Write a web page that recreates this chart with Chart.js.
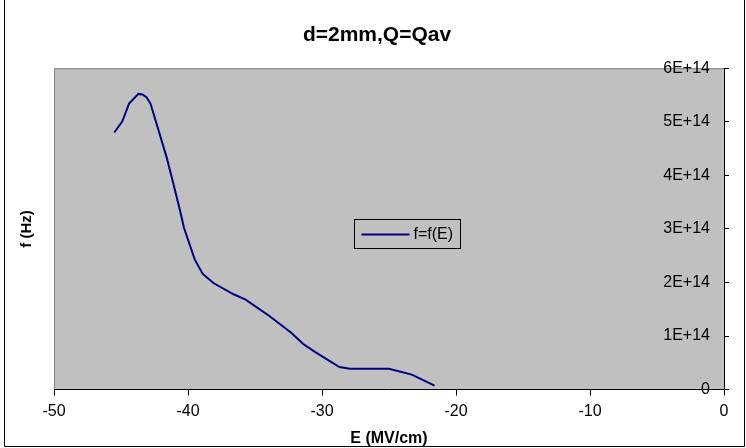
<!DOCTYPE html>
<html>
<head>
<meta charset="utf-8">
<script src="https://cdn.jsdelivr.net/npm/chart.js@4/dist/chart.umd.min.js"></script>
<style>
  html, body { margin: 0; padding: 0; background: #fff; }
  #wrap { width: 746px; height: 448px; }
</style>
</head>
<body>
<div id="wrap"><canvas id="myChart" width="746" height="448"></canvas></div>
<script>
// data
const fieldE = [-45.5, -44.9, -44.4, -43.7, -43.4, -43.1, -42.8, -42.2, -41.6, -41.1, -40.6, -40.3,
                -39.5, -38.9, -38.1, -36.6, -35.7, -33.9, -32.3, -31.4, -30.5, -28.7, -27.9, -25.0, -23.3, -21.6];
const freq = [4.80e14, 5.01e14, 5.34e14, 5.52e14, 5.51e14, 5.46e14, 5.34e14, 4.84e14, 4.34e14, 3.85e14, 3.35e14, 3.02e14,
              2.43e14, 2.16e14, 1.99e14, 1.78e14, 1.68e14, 1.37e14, 1.06e14, 0.85e14, 0.70e14, 0.42e14, 0.39e14, 0.39e14, 0.28e14, 0.075e14];
const xTicks = [-50, -40, -30, -20, -10, 0];
const yTickLabels = ['0', '1E+14', '2E+14', '3E+14', '4E+14', '5E+14', '6E+14'];

const FONT = '"Liberation Sans", Arial, sans-serif';

// grey plot area + outer frame
const plotBg = {
    id: 'plotBg',
    beforeDraw(chart) {
        const { ctx, chartArea: a } = chart;
        ctx.save();
        ctx.fillStyle = '#c0c0c0';
        ctx.fillRect(a.left, a.top, a.right - a.left, a.bottom - a.top);
        ctx.strokeStyle = '#808080';
        ctx.lineWidth = 1;
        ctx.beginPath();
        ctx.moveTo(a.left + 0.5, a.bottom);
        ctx.lineTo(a.left + 0.5, a.top + 0.5);
        ctx.lineTo(a.right, a.top + 0.5);
        ctx.stroke();
        // frame: left, bottom, right
        ctx.strokeStyle = '#000';
        ctx.beginPath();
        ctx.moveTo(4.5, 0);
        ctx.lineTo(4.5, chart.height - 1.5);
        ctx.lineTo(chart.width - 1.5, chart.height - 1.5);
        ctx.lineTo(chart.width - 1.5, 0);
        ctx.stroke();
        ctx.restore();
    }
};

// legend box sitting inside the plot
const boxLegend = {
    id: 'boxLegend',
    afterDatasetsDraw(chart) {
        const { ctx, chartArea: a } = chart;
        const ds = chart.data.datasets[0];
        const x = Math.round(a.left + 0.448 * (a.right - a.left)) + 0.5;
        const y = Math.round(a.top + 0.469 * (a.bottom - a.top)) + 0.5;
        ctx.save();
        ctx.strokeStyle = '#000';
        ctx.lineWidth = 1;
        ctx.strokeRect(x, y, 106, 29);
        ctx.strokeStyle = ds.borderColor;
        ctx.lineWidth = 2;
        ctx.beginPath();
        ctx.moveTo(x + 7, y + 15);
        ctx.lineTo(x + 55, y + 15);
        ctx.stroke();
        ctx.fillStyle = '#000';
        ctx.font = '16px ' + FONT;
        ctx.textBaseline = 'middle';
        ctx.fillText(ds.label, x + 59, y + 15);
        ctx.restore();
    }
};

const ctx = document.getElementById('myChart').getContext('2d');
const myChart = new Chart(ctx, {
    type: 'line',
    data: {
        datasets: [{
            label: 'f=f(E)',
            data: fieldE.map((e, i) => ({ x: e, y: freq[i] })),
            borderColor: '#000080',
            borderWidth: 2,
            pointRadius: 0,
            tension: 0,
            fill: false
        }]
    },
    options: {
        responsive: false,
        animation: false,
        layout: { padding: { left: 14, right: 6, top: 0, bottom: 0 } },
        plugins: {
            legend: { display: false },
            tooltip: { enabled: false },
            title: {
                display: true,
                text: 'd=2mm,Q=Qav',
                color: '#000',
                font: { family: FONT, size: 21, weight: 'bold' },
                padding: { top: 23, bottom: 20 }
            }
        },
        scales: {
            x: {
                type: 'linear',
                min: -50,
                max: 0,
                afterBuildTicks: s => { s.ticks = xTicks.map(v => ({ value: v })); },
                ticks: { color: '#000', font: { family: FONT, size: 16 }, padding: 6, maxRotation: 0 },
                grid: { drawOnChartArea: false, tickColor: '#000', tickLength: 6 },
                border: { color: '#000', width: 1 },
                title: {
                    display: true,
                    text: 'E (MV/cm)',
                    color: '#000',
                    font: { family: FONT, size: 16, weight: 'bold' },
                    padding: { top: 2, bottom: 0 }
                }
            },
            y: {
                position: 'right',
                min: 0,
                max: 6e14,
                afterFit: s => { s.width = 16; },
                ticks: {
                    stepSize: 1e14,
                    mirror: true,
                    padding: -14,
                    color: '#000',
                    font: { family: FONT, size: 16 },
                    callback: (v, i) => yTickLabels[i]
                },
                grid: { drawOnChartArea: false, tickColor: '#000', tickLength: 5 },
                border: { color: '#000', width: 1 }
            },
            yl: {
                position: 'left',
                display: true,
                ticks: { display: false },
                grid: { display: false, drawTicks: false },
                border: { display: false },
                title: {
                    display: true,
                    text: 'f (Hz)',
                    color: '#000',
                    font: { family: FONT, size: 15, weight: 'bold' },
                    padding: { top: 4, bottom: 18 }
                }
            }
        }
    },
    plugins: [plotBg, boxLegend]
});
</script>
</body>
</html>
